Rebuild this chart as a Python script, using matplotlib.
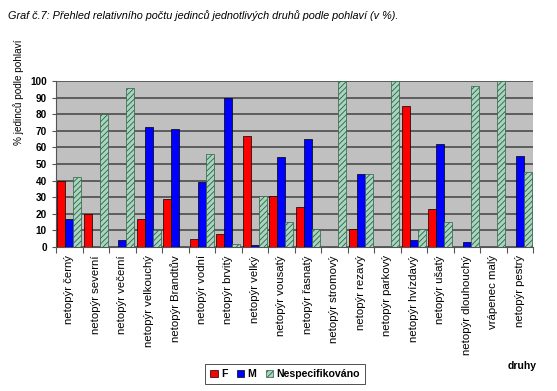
import matplotlib.pyplot as plt
import numpy as np

plt.rcParams['font.family'] = ['Liberation Sans', 'DejaVu Sans']
plt.rcParams['hatch.linewidth'] = 0.6

druhy = ['netopýr černý', 'netopýr severní', 'netopýr večerní', 'netopýr velkouchý',
         'netopýr Brandtův', 'netopýr vodní', 'netopýr brvitý', 'netopýr velký',
         'netopýr vousatý', 'netopýr řasnatý', 'netopýr stromový', 'netopýr rezavý',
         'netopýr parkový', 'netopýr hvízdavý', 'netopýr ušatý', 'netopýr dlouhouchý',
         'vrápenec malý', 'netopýr pestrý']
F = [40, 20, 0, 17, 29, 5, 8, 67, 31, 24, 0, 11, 0, 85, 23, 0, 0, 0]
M = [17, 0, 4, 72, 71, 39, 90, 1, 54, 65, 0, 44, 0, 4, 62, 3, 0, 55]
N = [42, 80, 96, 10, 0, 56, 2, 31, 15, 11, 100, 44, 100, 11, 15, 97, 100, 45]

fig = plt.figure(figsize=(5.57, 3.91), dpi=100)
ax = fig.add_axes([56 / 557, 1 - 247 / 391, 477 / 557, 166 / 391])
ax.set_facecolor('#C0C0C0')

x = np.arange(len(druhy))
w = 0.305
b1 = ax.bar(x + 0.04, F, w, align='edge', color='#FF0000', edgecolor='black', linewidth=0.5, label='F', zorder=3)
b2 = ax.bar(x + 0.04 + w, M, w, align='edge', color='#0000FF', edgecolor='black', linewidth=0.5, label='M', zorder=3)
b3 = ax.bar(x + 0.04 + 2 * w, N, w, align='edge', color='#A8D5BE', edgecolor='#2F5F45', linewidth=0.5,
            hatch='//////', label='Nespecifikováno', zorder=3)

ax.set_xlim(0, len(druhy))
ax.set_ylim(0, 100)
ax.set_yticks(range(0, 101, 10))
ax.yaxis.grid(True, color='#555555', linewidth=1.3, zorder=0)
ax.set_axisbelow(True)
for s in ['top', 'right']:
    ax.spines[s].set_visible(False)
ax.spines['left'].set_color('#555555')
ax.spines['bottom'].set_color('#555555')

ax.set_xticks(np.arange(len(druhy) + 1))
ax.set_xticklabels([])
ax.set_xticks(x + 0.5, minor=True)
ax.set_xticklabels(druhy, minor=True, rotation=90, fontsize=8.2)
ax.tick_params(axis='x', which='minor', length=0, pad=6)
ax.tick_params(axis='x', which='major', length=4, color='#555555')
ax.tick_params(axis='y', labelsize=7.2, length=3, color='#555555')
for t in ax.get_yticklabels():
    t.set_fontweight('bold')

ax.set_ylabel('% jedinců podle pohlaví', fontsize=7.2, fontweight='medium')
ax.yaxis.set_label_coords(-0.068, 0.93)

fig.text(8 / 557, 1 - 16 / 391, 'Graf č.7: Přehled relativního počtu jedinců jednotlivých druhů podle pohlaví (v %).',
         fontsize=7.8, style='italic', va='center')
fig.text(508 / 557, 1 - 366 / 391, 'druhy', fontsize=7.5, fontweight='bold', va='center')

leg = fig.legend(handles=[b1, b2, b3], loc='center', bbox_to_anchor=(285 / 557, 1 - 374 / 391), ncol=3,
                 frameon=True, fancybox=False, edgecolor='black', handlelength=0.7,
                 handleheight=0.7, handletextpad=0.3, columnspacing=0.9, borderpad=0.5,
                 prop={'weight': 'bold', 'size': 7.6})
leg.get_frame().set_linewidth(0.6)

fig.savefig('out.png', dpi=100)
